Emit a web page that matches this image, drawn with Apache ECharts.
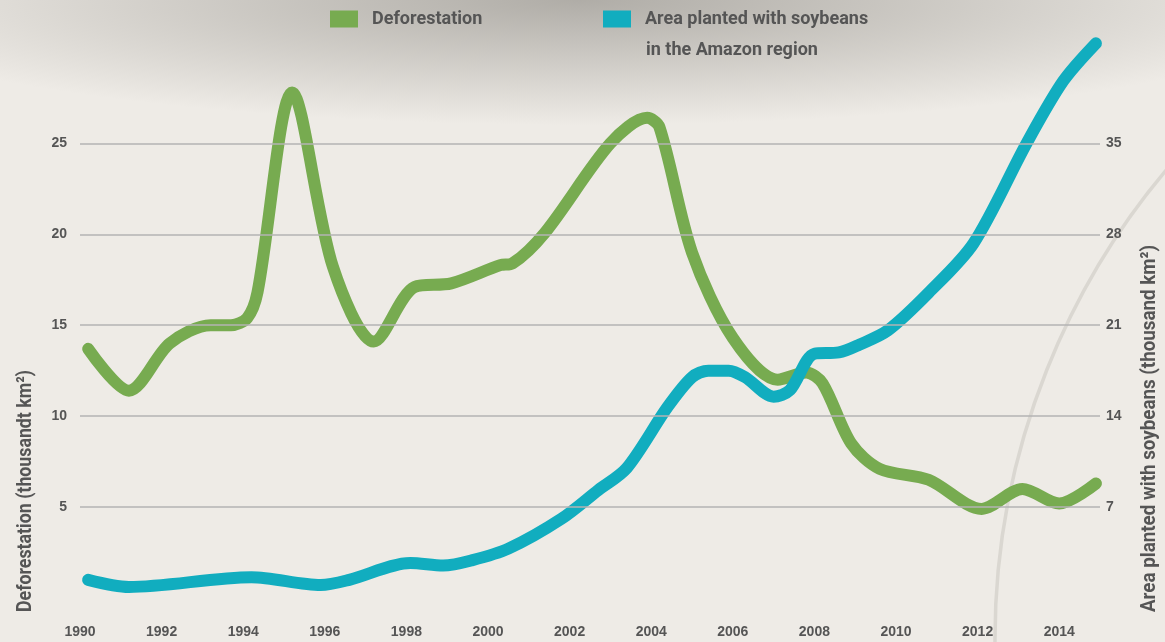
<!DOCTYPE html>
<html>
<head>
<meta charset="utf-8">
<title>Deforestation and soybeans in the Amazon</title>
<script src="https://cdn.jsdelivr.net/npm/echarts@6/dist/echarts.min.js"></script>
<style>
  html, body {
    margin: 0;
    padding: 0;
  }
  body {
    width: 1165px;
    height: 642px;
    background-color: #eeebe6;
    background-image: radial-gradient(ellipse 760px 125px at 580px 0px, rgba(160, 157, 151, 0.8), rgba(160, 157, 151, 0) 100%);
    overflow: hidden;
  }
  #chart {
    width: 1165px;
    height: 642px;
  }
</style>
</head>
<body>
<div id="chart"></div>
<script>
// deforestation, thousand km2
const defYears = [1990.2, 1991.2, 1992.2, 1993.2, 1993.7, 1994.1, 1994.35, 1995.2, 1996.2, 1997.2,
  1998.2, 1999.1, 2000.3, 2000.6, 2001.4, 2003.0, 2003.9, 2004.2, 2005.0, 2006.0,
  2007.1, 2007.8, 2008.2, 2008.9, 2009.6, 2010.8, 2012.1, 2013.1, 2014.0, 2014.9]
const defValues = [13.7, 11.4, 14.0, 15.0, 15.0, 15.4, 16.8, 27.8, 18.2, 14.1,
  17.1, 17.3, 18.3, 18.4, 20.1, 25.0, 26.4, 25.9, 19.0, 14.3,
  12.0, 12.4, 11.8, 8.5, 7.1, 6.5, 4.9, 6.0, 5.2, 6.3]

// soybean area in the Amazon region, thousand km2
const soyYears = [1990.2, 1991.2, 1994.2, 1995.9, 1996.6, 1998.1, 1998.9, 1999.6, 2000.5, 2001.8,
  2002.7, 2003.4, 2004.4, 2005.0, 2005.4, 2005.9, 2006.3, 2007.0, 2007.4, 2008.0,
  2008.6, 2009.1, 2009.8, 2010.8, 2011.9, 2013.2, 2014.1, 2014.9]
const soyValues = [1.4, 0.85, 1.6, 1.0, 1.4, 2.7, 2.5, 2.9, 3.8, 6.1,
  8.3, 10.0, 14.7, 17.0, 17.5, 17.5, 17.0, 15.5, 16.0, 18.8,
  18.9, 19.5, 20.6, 23.5, 27.3, 35.0, 39.8, 42.7]

const leftTicks = [5, 10, 15, 20, 25]
const rightTicks = [7, 14, 21, 28, 35]

const defName = 'Deforestation'
const soyName = 'Area planted with soybeans'
const soyName2 = 'in the Amazon region'
const leftTitle = 'Deforestation (thousandt km²)'
const rightTitle = 'Area planted with soybeans (thousand km²)'

const green = '#77ab50'
const blue = '#11adbf'
const textColor = '#555555'
const titleFont = 'bold 21px Roboto, "Liberation Sans", sans-serif'
const tickFont = '"Liberation Sans", Arial, sans-serif'

// squeeze a title horizontally so it spans the wanted length (the original face is condensed)
function fitScale(text, font, length) {
  const ctx = document.createElement('canvas').getContext('2d')
  ctx.font = font
  return length / ctx.measureText(text).width
}

const chart = echarts.init(document.getElementById('chart'))

const legendBase = {
  top: 10,
  padding: 0,
  itemWidth: 28,
  itemHeight: 17,
  icon: 'rect',
  selectedMode: false,
  textStyle: {
    color: textColor,
    fontFamily: 'Roboto, sans-serif',
    fontWeight: 'bold',
    fontSize: 18,
    padding: [2, 0, 0, 9]
  }
}

const option = {
  backgroundColor: 'transparent',
  animation: false,
  grid: { left: 80, right: 65, top: 16, bottom: 44 },
  legend: [
    Object.assign({}, legendBase, { data: [defName], left: 330 }),
    Object.assign({}, legendBase, { data: [soyName], left: 603 })
  ],
  xAxis: {
    type: 'value',
    min: 1990,
    max: 2015,
    interval: 2,
    axisLine: { show: false },
    axisTick: { show: false },
    splitLine: { show: false },
    axisLabel: {
      margin: 27,
      color: textColor,
      fontFamily: tickFont,
      fontWeight: 'bold',
      fontSize: 14,
      showMaxLabel: false,
      formatter: v => (v % 2 === 0 ? String(v) : '')
    }
  },
  yAxis: [
    {
      type: 'value',
      min: 0,
      max: 32,
      interval: 5,
      axisLine: { show: false },
      axisTick: { show: false },
      splitLine: { show: false },
      axisLabel: {
        margin: 13,
        color: textColor,
        fontFamily: tickFont,
        fontWeight: 'bold',
        fontSize: 14,
        formatter: v => (leftTicks.includes(v) ? String(v) : '')
      }
    },
    {
      type: 'value',
      min: 0,
      max: 44.8,
      interval: 7,
      axisLine: { show: false },
      axisTick: { show: false },
      splitLine: { show: false },
      axisLabel: {
        margin: 6,
        color: textColor,
        fontFamily: tickFont,
        fontWeight: 'bold',
        fontSize: 14,
        formatter: v => (rightTicks.includes(v) ? String(v) : '')
      }
    }
  ],
  graphic: [
    {
      type: 'arc',
      z: 0,
      silent: true,
      shape: { cx: 1725, cy: 640, r: 730, startAngle: Math.PI - 0.05, endAngle: 3.95 },
      style: { stroke: '#dad7d1', lineWidth: 3.5, fill: null }
    },
    {
      type: 'text',
      x: 646,
      y: 50,
      style: {
        text: soyName2,
        fill: textColor,
        font: 'bold 18px Roboto, sans-serif',
        align: 'left',
        verticalAlign: 'middle'
      }
    },
    {
      type: 'text',
      x: 26,
      y: 612,
      rotation: Math.PI / 2,
      scaleX: fitScale(leftTitle, titleFont, 242),
      style: {
        text: leftTitle,
        fill: textColor,
        font: titleFont,
        align: 'left',
        verticalAlign: 'middle'
      }
    },
    {
      type: 'text',
      x: 1150,
      y: 612,
      rotation: Math.PI / 2,
      scaleX: fitScale(rightTitle, titleFont, 367),
      style: {
        text: rightTitle,
        fill: textColor,
        font: titleFont,
        align: 'left',
        verticalAlign: 'middle'
      }
    }
  ],
  series: [
    {
      name: defName,
      type: 'line',
      yAxisIndex: 0,
      smooth: 0.3,
      showSymbol: false,
      clip: false,
      z: 3,
      color: green,
      lineStyle: { width: 12, color: green, cap: 'round', join: 'round' },
      data: defYears.map((y, i) => [y, defValues[i]]),
      markLine: {
        silent: true,
        symbol: 'none',
        label: { show: false },
        lineStyle: { color: '#b3b3b3', width: 1.5, type: 'solid' },
        data: leftTicks.map(v => ({ yAxis: v }))
      }
    },
    {
      name: soyName,
      type: 'line',
      yAxisIndex: 1,
      smooth: 0.3,
      showSymbol: false,
      clip: false,
      z: 4,
      color: blue,
      lineStyle: { width: 12, color: blue, cap: 'round', join: 'round' },
      data: soyYears.map((y, i) => [y, soyValues[i]])
    }
  ]
}

chart.setOption(option)
</script>
</body>
</html>
